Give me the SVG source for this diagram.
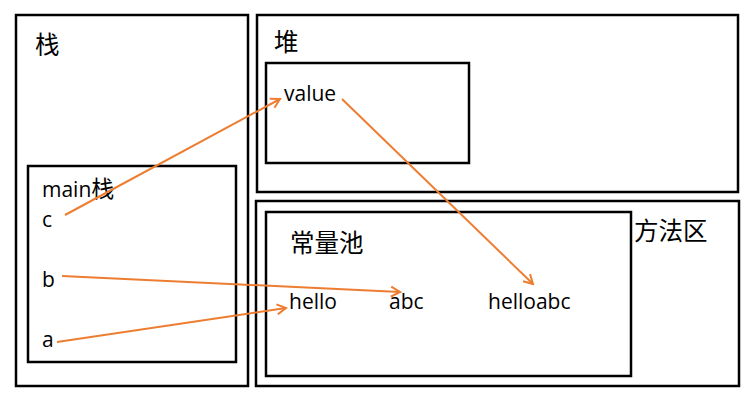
<svg xmlns="http://www.w3.org/2000/svg" width="756" height="406" viewBox="0 0 756 406">
<style>
.box{fill:none;stroke:#000;stroke-width:2.5}
.t{font-family:"Open Sans","Noto Sans CJK SC",sans-serif;font-size:21px;fill:#000}
.cjk{font-family:"Noto Sans CJK SC",sans-serif;font-size:24.5px;fill:#000}
.ar{fill:none;stroke:#ED7D31;stroke-width:2}
</style>
<defs>
<marker id="ah" markerWidth="12" markerHeight="12" refX="10" refY="6" orient="auto" markerUnits="userSpaceOnUse">
<path d="M1,1 L10,6 L1,11" fill="none" stroke="#ED7D31" stroke-width="2"/>
</marker>
</defs>
<rect width="756" height="406" fill="#fff"/>
<g id="stack">
<rect class="box" x="16" y="15" width="232" height="371"/>
<text class="cjk" x="35" y="54">栈</text>
</g>
<g id="heap">
<rect class="box" x="257" y="15" width="481" height="177"/>
<text class="cjk" x="274" y="51">堆</text>
</g>
<g id="value">
<rect class="box" x="266" y="63" width="203" height="100"/>
<text class="t" x="284" y="101">value</text>
</g>
<g id="method">
<rect class="box" x="256" y="201" width="483" height="185"/>
<text class="cjk" x="634" y="240">方法区</text>
</g>
<g id="pool">
<rect class="box" x="266" y="212" width="365" height="164"/>
<text class="cjk" x="290" y="252">常量池</text>
<text class="t" x="289" y="309">hello</text>
<text class="t" x="389" y="309">abc</text>
<text class="t" x="488" y="309">helloabc</text>
</g>
<g id="main">
<rect class="box" x="28" y="166" width="208" height="196"/>
<text class="t" x="42" y="197">main<tspan font-family="Noto Sans CJK SC" font-size="23px">栈</tspan></text>
<text class="t" x="42" y="227">c</text>
<text class="t" x="42" y="287">b</text>
<text class="t" x="42" y="347">a</text>
</g>
<g id="connectors">
<line class="ar" x1="65" y1="215" x2="280" y2="99" marker-end="url(#ah)"/>
<line class="ar" x1="342" y1="99" x2="533" y2="284" marker-end="url(#ah)"/>
<line class="ar" x1="62" y1="276" x2="400" y2="292" marker-end="url(#ah)"/>
<line class="ar" x1="57" y1="342" x2="286" y2="308" marker-end="url(#ah)"/>
</g>
</svg>
